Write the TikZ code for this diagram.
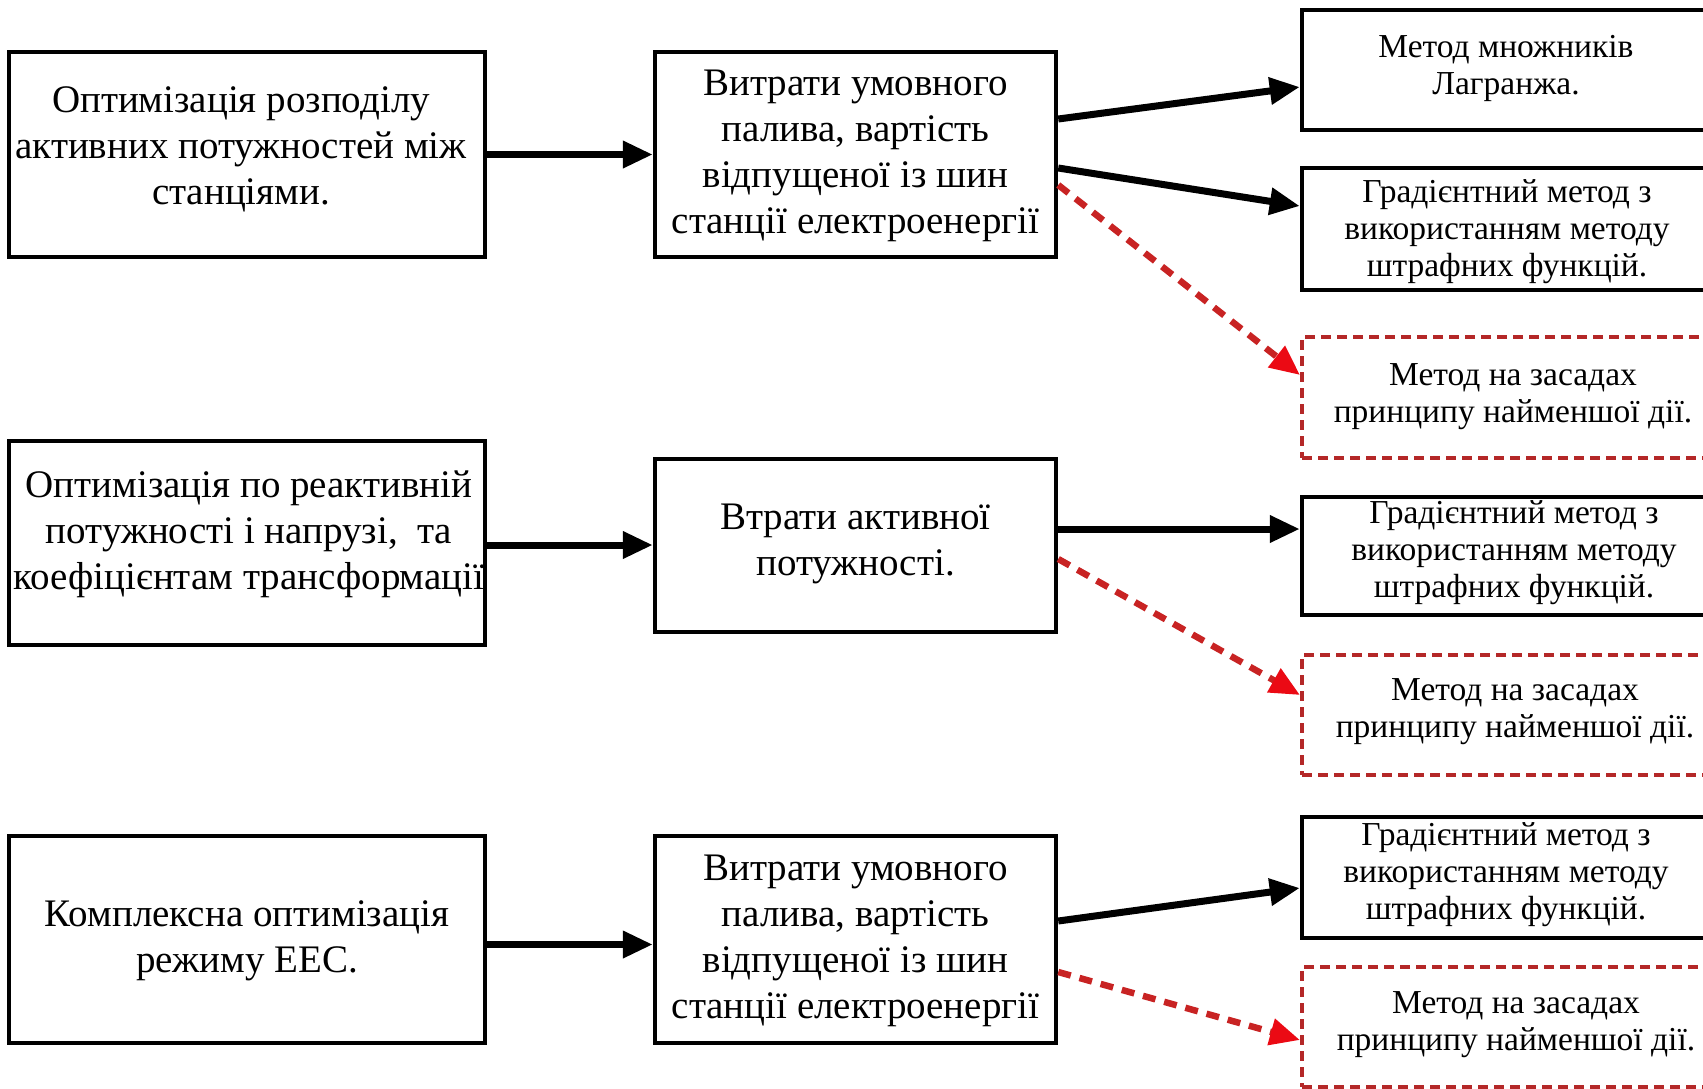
\documentclass[tikz,border=0pt]{standalone}
\usepackage{fontspec}
\setmainfont{Liberation Serif}
\usetikzlibrary{arrows.meta,calc}
\definecolor{dred}{RGB}{180,40,40}
\definecolor{bred}{RGB}{235,10,20}
\definecolor{lred}{RGB}{200,35,35}
\tikzset{
  box/.style={draw=black,line width=4.5pt,rectangle,inner sep=0pt},
  dbox/.style={draw=dred,line width=4pt,rectangle,inner sep=0pt,dash pattern=on 10pt off 6pt},
  bigtxt/.style={align=center,inner sep=0pt,font=\fontsize{39}{46}\selectfont},
  smtxt/.style={align=center,inner sep=0pt,font=\fontsize{33.5}{37}\selectfont},
  blarrow/.style={line width=7pt,-{Triangle[length=30pt,width=26pt]}},
  rdarrow/.style={line width=6.5pt,draw=lred,dash pattern=on 13pt off 9pt,-{Triangle[length=30pt,width=26pt,fill=bred,color=bred,sep=0pt]}},
}
\begin{document}
\begin{tikzpicture}[x=1pt,y=-1pt]
\useasboundingbox (0,0) rectangle (1703,1088);
\clip (0,0) rectangle (1703,1088);
% left boxes
\node[box,minimum width=476pt,minimum height=205pt] (L1) at (247,154.5) {};
\node[box,minimum width=476pt,minimum height=204pt] (L2) at (247,543) {};
\node[box,minimum width=476pt,minimum height=207pt] (L3) at (247,939.5) {};
% middle boxes
\node[box,minimum width=401pt,minimum height=205pt] (M1) at (855.5,154.5) {};
\node[box,minimum width=401pt,minimum height=173pt] (M2) at (855.5,545.5) {};
\node[box,minimum width=401pt,minimum height=207pt] (M3) at (855.5,939.5) {};
% right boxes
\node[box,minimum width=410pt,minimum height=120pt] (R1) at (1507,70) {};
\node[box,minimum width=410pt,minimum height=122pt] (R2) at (1507,229) {};
\node[dbox,minimum width=410pt,minimum height=121pt] (R3) at (1507,397.5) {};
\node[box,minimum width=410pt,minimum height=118pt] (R4) at (1507,556) {};
\node[dbox,minimum width=410pt,minimum height=120pt] (R5) at (1507,715) {};
\node[box,minimum width=410pt,minimum height=121pt] (R6) at (1507,877.5) {};
\node[dbox,minimum width=410pt,minimum height=120pt] (R7) at (1507,1027) {};
% texts
\node[bigtxt] (tL1) at (241,149) {Оптимізація розподілу\\активних потужностей між\\станціями.};
\node[bigtxt] (tL2) at (249,534) {Оптимізація по реактивній\\потужності і напрузі,\ \ та\\коефіцієнтам трансформації};
\node[bigtxt] (tL3) at (247,941) {Комплексна оптимізація\\режиму ЕЕС.};
\node[bigtxt] (tM1) at (855.5,156) {Витрати умовного\\палива, вартість\\відпущеної із шин\\станції електроенергії};
\node[bigtxt] (tM2) at (855.5,544) {Втрати активної\\потужності.};
\node[bigtxt] (tM3) at (855.5,941) {Витрати умовного\\палива, вартість\\відпущеної із шин\\станції електроенергії};
\node[smtxt] (tR1) at (1506,68) {Метод множників\\Лагранжа.};
\node[smtxt] (tR2) at (1507,232) {Градієнтний метод з\\використанням методу\\штрафних функцій.};
\node[smtxt] (tR3) at (1513,397) {Метод на засадах\\принципу найменшої дії.};
\node[smtxt] (tR4) at (1514,553) {Градієнтний метод з\\використанням методу\\штрафних функцій.};
\node[smtxt] (tR5) at (1515,712) {Метод на засадах\\принципу найменшої дії.};
\node[smtxt] (tR6) at (1506,875) {Градієнтний метод з\\використанням методу\\штрафних функцій.};
\node[smtxt] (tR7) at (1516,1025) {Метод на засадах\\принципу найменшої дії.};
% connectors left -> middle
\draw[blarrow] (L1.east) -- (M1.west);
\draw[blarrow] ([yshift=-2pt]L2.east) -- ([yshift=-2pt]M2.west |- L2.east);
\draw[blarrow] ([yshift=-5pt]L3.east) -- ([yshift=-5pt]M3.west);
% middle -> right
\draw[blarrow] ([yshift=35.5pt]M1.east) -- ([yshift=-17pt]R1.west);
\draw[blarrow] ([yshift=-13.5pt]M1.east) -- ([yshift=23pt]R2.west);
\draw[rdarrow] ([yshift=-30.5pt]M1.east) -- ([yshift=22.5pt]R3.west);
\draw[blarrow] ([yshift=16.5pt]M2.east) -- ([yshift=27pt]R4.west);
\draw[rdarrow] ([yshift=-13.5pt]M2.east) -- ([yshift=20pt]R5.west);
\draw[blarrow] ([yshift=18.5pt]M3.east) -- ([yshift=-10.5pt]R6.west);
\draw[rdarrow] ([yshift=-32.5pt]M3.east) -- ([yshift=-13pt]R7.west);
\end{tikzpicture}
\end{document}
